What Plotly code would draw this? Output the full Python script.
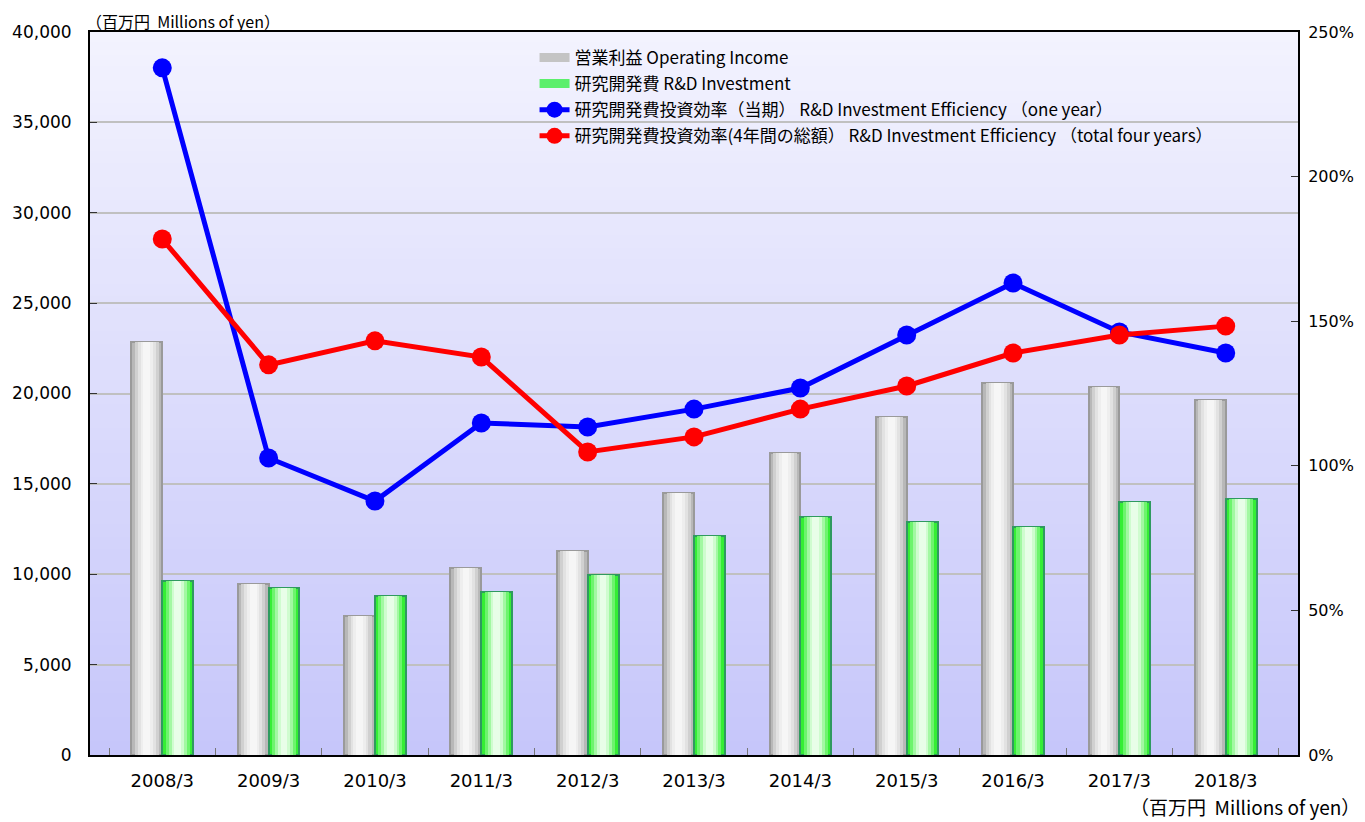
import plotly.graph_objects as go

years = ["2008/3", "2009/3", "2010/3", "2011/3", "2012/3", "2013/3",
         "2014/3", "2015/3", "2016/3", "2017/3", "2018/3"]
op_income = [22850, 9460, 7690, 10350, 11290, 14500, 16710, 18700, 20580, 20360, 19640]
rd_invest = [9630, 9240, 8800, 9020, 9960, 12120, 13170, 12890, 12610, 14000, 14160]
eff_one_year = [237.6, 102.7, 87.8, 114.8, 113.4, 119.6, 126.9, 145.2, 163.2, 146.3, 139.0]
eff_four_year = [178.4, 134.9, 143.2, 137.6, 104.8, 110.0, 119.6, 127.6, 139.0, 145.2, 148.3]
pct_ticks = [0, 50, 100, 150, 200, 250]
yen_ticks = list(range(0, 40001, 5000))

name_op = "営業利益 Operating Income"
name_rd = "研究開発費 R&D Investment"
name_e1 = "研究開発費投資効率（当期） R&D Investment Efficiency （one year）"
name_e4 = "研究開発費投資効率(4年間の総額） R&D Investment Efficiency （total four years）"

BW = 0.29
fig = go.Figure()

# legend-only entries for the bar series (wide rectangle symbols)
fig.add_trace(go.Scatter(x=years, y=[None] * len(years), name=name_op, mode="lines",
                         line=dict(color="#c4c4c4", width=9), legendgroup="a", yaxis="y"))
fig.add_trace(go.Scatter(x=years, y=[None] * len(years), name=name_rd, mode="lines",
                         line=dict(color="#5cef6c", width=9), legendgroup="b", yaxis="y"))

def layered_bars(values, name, center, colors, line_color):
    widths = [BW, BW * 0.78, BW * 0.58, BW * 0.40, BW * 0.22]
    for i, (w, c) in enumerate(zip(widths, colors)):
        fig.add_trace(go.Bar(
            x=years, y=values, name=name,
            width=[w] * len(years), offset=[center - w / 2] * len(years),
            marker=dict(color=c,
                        line=dict(color=line_color if i == 0 else c, width=2 if i == 0 else 0)),
            showlegend=False, hoverinfo="skip" if i else None, yaxis="y"))

layered_bars(op_income, name_op, -BW / 2,
             ["#b8b8b8", "#d0d0d0", "#e2e2e2", "#eeeeee", "#f6f6f6"], "#9a9a9a")
layered_bars(rd_invest, name_rd, BW / 2,
             ["#35ee35", "#6df46d", "#a2f8a2", "#cffccf", "#e8fee8"], "#2f9a5f")

fig.add_trace(go.Scatter(
    x=years, y=eff_one_year, name=name_e1, yaxis="y2", mode="lines+markers",
    legendgroup="c",
    line=dict(color="#0000ff", width=5), marker=dict(color="#0000ff", size=19)))
fig.add_trace(go.Scatter(
    x=years, y=eff_four_year, name=name_e4, yaxis="y2", mode="lines+markers",
    legendgroup="d",
    line=dict(color="#ff0000", width=5), marker=dict(color="#ff0000", size=19)))

# background vertical gradient
N = 60
top = (243, 243, 254)
bot = (198, 198, 250)
shapes = []
for i in range(N):
    t = (i + 0.5) / N
    col = tuple(int(round(top[k] + (bot[k] - top[k]) * t)) for k in range(3))
    shapes.append(dict(type="rect", xref="x domain", yref="y domain",
                       x0=0, x1=1, y0=1 - (i + 1) / N, y1=min(1, 1 - i / N + 0.002),
                       fillcolor="rgb(%d,%d,%d)" % col, line=dict(width=0),
                       layer="below"))

tickfont = dict(family="DejaVu Sans", size=17, color="#000000")

# the page body adds an 8px margin, so the figure is sized to fit the window
fig.update_layout(
    width=1357, height=814,
    margin=dict(l=82, r=67, t=24, b=67, autoexpand=False),
    paper_bgcolor="#ffffff", plot_bgcolor="#e0e0fc",
    barmode="overlay", bargap=0,
    shapes=shapes,
    showlegend=True,
    legend=dict(x=0.368, y=0.989, xanchor="left", yanchor="top",
                bgcolor="rgba(0,0,0,0)", traceorder="grouped",
                font=dict(family="Noto Sans CJK JP", size=17, color="#000000"),
                itemwidth=30, tracegroupgap=1),
    xaxis=dict(type="category", showgrid=False, showline=True, linecolor="#000000",
               linewidth=2, mirror=True, ticks="inside", tickson="boundaries",
               ticklen=7, tickcolor="#777777", automargin=False,
               ticklabelstandoff=8,
               tickfont=dict(family="DejaVu Sans", size=18, color="#000000")),
    yaxis=dict(range=[0, 40000], tickvals=yen_ticks,
               tickformat=",d", showgrid=True, gridcolor="#c0c0c0", gridwidth=2,
               showline=True, linecolor="#000000", linewidth=2, ticks="inside",
               ticklen=7, tickcolor="#333333", tickfont=tickfont, zeroline=False,
               automargin=False, ticklabelstandoff=13),
    yaxis2=dict(range=[0, 250], tickvals=pct_ticks,
                ticktext=["%d%%" % v for v in pct_ticks],
                overlaying="y", side="right", showgrid=False, showline=True,
                linecolor="#000000", linewidth=2, ticks="inside", ticklen=7,
                tickcolor="#333333", tickfont=dict(family="DejaVu Sans", size=16,
                                                   color="#000000"),
                zeroline=False, automargin=False, ticklabelstandoff=5),
    annotations=[
        dict(text="（百万円  Millions of yen）", xref="paper", yref="paper",
             x=0, y=1, xanchor="left", yanchor="bottom", showarrow=False,
             xshift=-6, yshift=-3,
             font=dict(family="Noto Sans CJK JP", size=16, color="#000000")),
        dict(text="（百万円  Millions of yen）", xref="paper", yref="paper",
             x=1.0, y=0, xanchor="right", yanchor="top", showarrow=False,
             xshift=64, yshift=-36,
             font=dict(family="Noto Sans CJK JP", size=19, color="#000000")),
    ],
)

fig.write_html("out.html")
